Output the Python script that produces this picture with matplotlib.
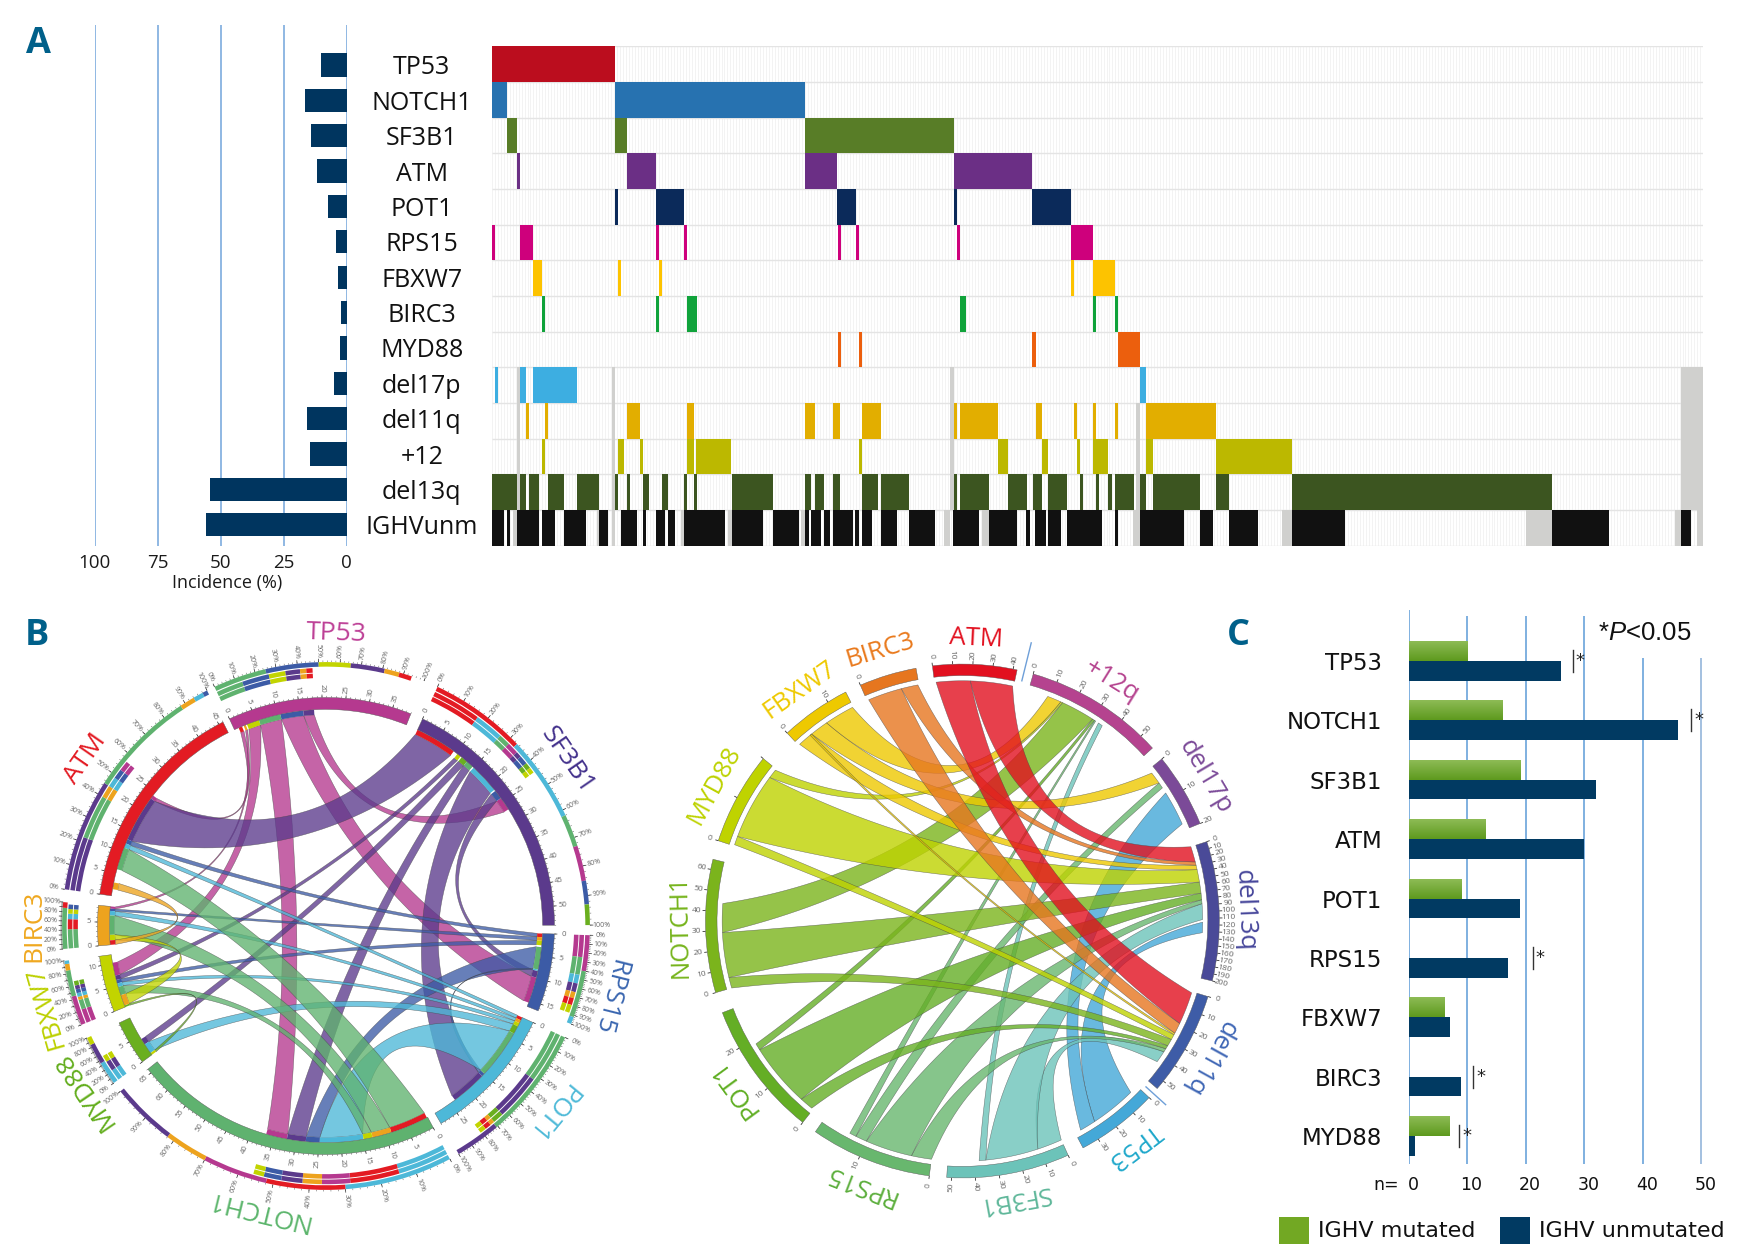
import matplotlib
matplotlib.use('Agg')
import matplotlib.pyplot as plt
import numpy as np
from matplotlib.collections import LineCollection
from matplotlib.patches import Polygon, Rectangle, Wedge
from matplotlib.transforms import ScaledTranslation

plt.rcParams['font.family'] = ['Open Sans', 'DejaVu Sans']
plt.rcParams['mathtext.fontset'] = 'custom'
plt.rcParams['mathtext.it'] = 'Liberation Sans:italic'
plt.rcParams['mathtext.rm'] = 'Liberation Sans'

W, H = 1737, 1260

# +++ panel A: incidence bars and mutation matrix +++
genes = ['TP53', 'NOTCH1', 'SF3B1', 'ATM', 'POT1', 'RPS15', 'FBXW7', 'BIRC3', 'MYD88',
         'del17p', 'del11q', '+12', 'del13q', 'IGHVunm']
incidence = [10.1, 16.7, 14.1, 11.7, 7.5, 4.2, 3.3, 2.2, 2.6, 5.0, 15.9, 14.8, 54.4, 55.7]
incidence_ticks = [100, 75, 50, 25, 0]
n_patients = 406

gene_colors = ['#bb0d1e', '#2772b0', '#587d27', '#6b2f85', '#0b2a5a', '#ce007c', '#fdc300',
               '#10a33b', '#ec5f0d', '#3daee1', '#e2ae00', '#bcb800', '#3c5520', '#111111']

# altered patients per row as (first, last) positions along the sorted patient axis
tp53_runs = [(0, 41.3)]
notch1_runs = [(0, 5.2), (41.3, 105)]
sf3b1_runs = [(5.2, 8.5), (41.3, 45.5), (105, 155)]
atm_runs = [(8.5, 9.5), (45.5, 55), (105, 115.8), (155, 181)]
pot1_runs = [(41.3, 42.4), (55, 64.5), (115.8, 122), (155, 156), (181, 194)]
rps15_runs = [(0, 1), (9.5, 13.8), (55, 56), (64.5, 65.6), (116, 117), (122, 123), (156, 157), (194, 201.4)]
fbxw7_runs = [(13.8, 17), (42.4, 43.3), (56, 57), (194, 195), (201.4, 208.8)]
birc3_runs = [(17, 18), (55, 56), (65.4, 68.8), (157, 159), (201.4, 202.5), (208.8, 209.8)]
myd88_runs = [(116, 117), (123, 124.2), (181, 182.4), (209.8, 217.3)]
del17p_runs = [(1, 2), (9.5, 11.5), (13.8, 28.6), (217.3, 219.3)]
del11q_runs = [(11.5, 12.6), (18, 19), (45.5, 49.8), (65.4, 67.7), (105, 108.4), (114.5, 116.7), (124.2, 130.5),
               (155, 156), (157, 169.7), (182.4, 184.3), (195, 196), (201.4, 202.5), (208.8, 209.8), (219.3, 242.6)]
plus12_runs = [(17, 18), (42.4, 44.4), (49.6, 50.7), (65.4, 67.7), (68.6, 80.3), (123, 124.2), (169.7, 172.9),
               (184.3, 186.5), (196, 197.2), (201.5, 206.6), (219.3, 221.6), (242.6, 268)]
del13q_runs = [(0, 8.4), (9.4, 11.5), (12.6, 15.9), (19, 24.2), (28.5, 36), (41.1, 42.2), (45.4, 46.5), (50.7, 52.8),
               (57, 59.2), (64.4, 65.5), (67.7, 68.8), (80.4, 94.1), (105, 107.1), (108.2, 111.3), (114.4, 116.6),
               (124, 129.4), (130.4, 139.9), (155, 156), (157, 166.5), (172.9, 179.2), (181.3, 184.5), (186.5, 192.9),
               (197, 198.2), (202.5, 203.6), (206.6, 207.9), (208.8, 215.2), (217.3, 219.3), (221.6, 237.3),
               (242.6, 246.9), (268, 355.2)]
ighv_runs = [(0, 4.1), (5.2, 6.2), (8.4, 15.9), (16.9, 21.1), (24.2, 31.6), (36, 39.1), (43.2, 48.7), (50.7, 51.8),
             (55, 58.2), (59.1, 61.3), (64.4, 78.3), (80.4, 91), (94.1, 103), (105, 106.2), (107.1, 110.4),
             (111.2, 113.4), (114.4, 120.9), (121.8, 123.2), (124, 127.3), (130.4, 135.8), (139.9, 148.5),
             (154.7, 163.3), (166.5, 176), (179, 180.2), (182.2, 185.6), (186.5, 190.9), (192.9, 204.5),
             (208.8, 209.8), (217.3, 232), (237.3, 241.6), (246.9, 256.6), (268, 286), (355.2, 374.3), (398.5, 401.8)]
gene_runs = [tp53_runs, notch1_runs, sf3b1_runs, atm_runs, pot1_runs, rps15_runs, fbxw7_runs, birc3_runs,
             myd88_runs, del17p_runs, del11q_runs, plus12_runs, del13q_runs, ighv_runs]

# not evaluable patients (grey cells)
fish_missing = [(8.4, 9.4), (40.2, 41.3), (153.7, 154.9), (398.5, 406)]
del11q_missing = fish_missing + [(216, 217.3)]
ighv_missing = [(7.3, 8.4), (35.2, 36), (40.2, 41.3), (63.4, 64.4), (79.3, 80.4), (103.8, 105), (151.5, 153.7),
                (164.2, 166.5), (215, 217.3), (264.7, 268), (346.6, 355.2), (396.4, 398.5), (403.7, 406)]
missing_rows = {9: fish_missing, 10: del11q_missing, 11: del11q_missing, 12: del11q_missing, 13: ighv_missing}

# +++ panel B: co-occurrence among mutated genes +++
b_sectors = ['TP53', 'SF3B1', 'RPS15', 'POT1', 'NOTCH1', 'MYD88', 'FBXW7', 'BIRC3', 'ATM']
b_sizes = [39, 54, 16.5, 29, 66, 9.5, 12, 8.5, 46]
b_starts = [-25, 25, 92, 115, 152, 233.5, 248, 265, 278]
b_label_angles = [2, 55.5, 104, 129.5, 193.7, 235.7, 254, 270, 304.8]
b_colors = {'TP53': '#b5398f', 'SF3B1': '#5b3a8c', 'RPS15': '#3c5ba6', 'POT1': '#4db8d8', 'NOTCH1': '#5fb26f',
            'MYD88': '#6aaf1f', 'FBXW7': '#c2d400', 'BIRC3': '#eda31e', 'ATM': '#e31b23'}
b_label_colors = {'TP53': '#bd3f96', 'SF3B1': '#43318c', 'RPS15': '#3a66b0', 'POT1': '#4fbad8', 'NOTCH1': '#5cb56c',
                  'MYD88': '#62ad1c', 'FBXW7': '#bcd000', 'BIRC3': '#efa820', 'ATM': '#e31b23'}
b_links = [
    ('TP53', 1, 1.8, 'ATM', 23.4, 24.2), ('TP53', 2.2, 2.7, 'BIRC3', 8, 8.5), ('TP53', 3, 5.8, 'FBXW7', 7.3, 10.2),
    ('TP53', 5.8, 10.7, 'NOTCH1', 32, 36.7), ('TP53', 10.7, 15.8, 'RPS15', 9.8, 15.6), ('TP53', 15.8, 18.2, 'SF3B1', 24, 27),
    ('SF3B1', 0, 9.3, 'ATM', 13, 23.4), ('SF3B1', 10.3, 11.2, 'FBXW7', 6.3, 7.3), ('SF3B1', 11.5, 13, 'MYD88', 2.8, 4.2),
    ('SF3B1', 13, 14.7, 'NOTCH1', 27.8, 32), ('SF3B1', 15, 21.7, 'POT1', 15.7, 23.7), ('SF3B1', 22, 24, 'RPS15', 8.3, 9.8),
    ('RPS15', 0, 0.8, 'ATM', 12, 13), ('RPS15', 0.8, 1.6, 'BIRC3', 7.5, 8), ('RPS15', 1.6, 2.6, 'FBXW7', 5.5, 6.3),
    ('RPS15', 3, 8, 'NOTCH1', 24.7, 27.8), ('RPS15', 8, 8.3, 'POT1', 15, 15.7),
    ('POT1', 0, 0.7, 'ATM', 11, 12), ('POT1', 0.7, 1.4, 'BIRC3', 6.5, 7.5), ('POT1', 1.4, 2.2, 'FBXW7', 4.7, 5.5),
    ('POT1', 2.2, 4, 'MYD88', 0.5, 2.8), ('POT1', 4, 15, 'NOTCH1', 15, 24.7),
    ('NOTCH1', 0.2, 8.7, 'ATM', 6, 11), ('NOTCH1', 8.7, 13, 'BIRC3', 2.2, 6.5), ('NOTCH1', 13, 15, 'FBXW7', 2.8, 4.7),
    ('MYD88', 0, 0.5, 'FBXW7', 0, 0.4), ('FBXW7', 0.4, 2.8, 'BIRC3', 1, 2.2), ('BIRC3', 0, 1, 'ATM', 1.5, 3),
]
b_outer_shares = {
    'TP53': [('NOTCH1', 25), ('RPS15', 25), ('FBXW7', 15), ('SF3B1', 16), ('BIRC3', 7), ('ATM', 6)],
    'SF3B1': [('ATM', 33), ('POT1', 29), ('NOTCH1', 11), ('TP53', 12), ('RPS15', 8), ('MYD88', 7)],
    'RPS15': [('TP53', 40), ('NOTCH1', 52), ('POT1', 8)],
    'POT1': [('NOTCH1', 71), ('SF3B1', 29)],
    'NOTCH1': [('POT1', 30), ('ATM', 22), ('TP53', 18), ('BIRC3', 12), ('SF3B1', 18)],
    'MYD88': [('POT1', 45), ('SF3B1', 40), ('FBXW7', 15)],
    'FBXW7': [('TP53', 45), ('NOTCH1', 40), ('BIRC3', 10), ('POT1', 5)],
    'BIRC3': [('NOTCH1', 88), ('ATM', 12)],
    'ATM': [('SF3B1', 45), ('NOTCH1', 43), ('BIRC3', 6), ('POT1', 4), ('RPS15', 2)],
}
b_inner_shares = {
    'TP53': [('NOTCH1', 13), ('RPS15', 13), ('FBXW7', 8), ('SF3B1', 7), ('BIRC3', 3), ('ATM', 3)],
    'SF3B1': [('ATM', 17), ('POT1', 10), ('NOTCH1', 4), ('TP53', 4), ('SF3B1', 2), ('RPS15', 3), ('MYD88', 2), ('FBXW7', 2)],
    'RPS15': [('TP53', 25), ('NOTCH1', 20), ('POT1', 10), ('SF3B1', 10), ('BIRC3', 7), ('ATM', 8), ('FBXW7', 9)],
    'POT1': [('NOTCH1', 33), ('SF3B1', 30), ('MYD88', 7), ('BIRC3', 3), ('ATM', 4), ('FBXW7', 4)],
    'NOTCH1': [('POT1', 14.5), ('ATM', 14), ('TP53', 8), ('BIRC3', 5.5), ('SF3B1', 6), ('RPS15', 5), ('FBXW7', 3)],
    'MYD88': [('POT1', 22), ('SF3B1', 20), ('FBXW7', 13)],
    'FBXW7': [('TP53', 22), ('NOTCH1', 15), ('BIRC3', 5), ('POT1', 6), ('RPS15', 6), ('SF3B1', 6), ('MYD88', 7)],
    'BIRC3': [('NOTCH1', 42), ('ATM', 22), ('POT1', 12), ('FBXW7', 10), ('RPS15', 10)],
    'ATM': [('SF3B1', 22), ('NOTCH1', 18), ('BIRC3', 5), ('POT1', 4), ('RPS15', 4), ('TP53', 4)],
}

# +++ panel C left: mutations vs cytogenetic alterations +++
c_sectors = ['ATM', '+12q', 'del17p', 'del13q', 'del11q', 'TP53', 'SF3B1', 'RPS15', 'POT1', 'NOTCH1', 'MYD88', 'FBXW7', 'BIRC3']
c_sizes = [42, 56.6, 20, 200, 55, 38, 52, 17, 28, 65, 20, 14, 9]
c_starts = [-6.7, 16, 50.9, 72, 107.1, 133.4, 155.7, 187.4, 218.4, 253.8, 288.2, 317, 336.6]
c_ends = [12.3, 47.7, 67.7, 103.5, 130.7, 152, 183.5, 214.9, 249.1, 283.9, 309.2, 333, 349.6]
c_colors = {'ATM': '#e2101f', '+12q': '#b5438f', 'del17p': '#7b4a98', 'del13q': '#4a4a98', 'del11q': '#3e5ca7',
            'TP53': '#44a8d8', 'SF3B1': '#6cc3b9', 'RPS15': '#68b76e', 'POT1': '#64ae25', 'NOTCH1': '#7bb41c',
            'MYD88': '#bfd300', 'FBXW7': '#eec900', 'BIRC3': '#e6761f'}
c_label_colors = {'ATM': '#e2101f', '+12q': '#b5438f', 'del17p': '#7b4a98', 'del13q': '#45459a', 'del11q': '#3e66b5',
                  'TP53': '#1fa8cb', 'SF3B1': '#5fb79a', 'RPS15': '#5cae3c', 'POT1': '#5fae22', 'NOTCH1': '#76b41c',
                  'MYD88': '#bdd200', 'FBXW7': '#eec900', 'BIRC3': '#e9791c'}
c_links = [
    ('TP53', 4.3, 27, 'del13q', 116, 132), ('TP53', 27, 35, 'del17p', 8.2, 18.2),
    ('SF3B1', 0, 11.2, 'del11q', 37, 43.7), ('SF3B1', 11.2, 35, 'del13q', 88, 112), ('SF3B1', 35, 38, '+12q', 33, 35),
    ('RPS15', 0, 3, 'del11q', 35, 37), ('RPS15', 3, 10, 'del13q', 82, 88), ('RPS15', 10, 11.7, 'del17p', 4.8, 6.5),
    ('RPS15', 11.7, 12.7, '+12q', 31, 31.6),
    ('POT1', 0.4, 3.4, 'del11q', 33, 35), ('POT1', 3.4, 17.5, 'del13q', 72, 82), ('POT1', 17.5, 19, '+12q', 30, 31),
    ('NOTCH1', 0, 5.6, 'del11q', 29, 33), ('NOTCH1', 5.6, 29, 'del13q', 55, 72), ('NOTCH1', 29, 44, '+12q', 15.4, 30),
    ('MYD88', 0.3, 2.3, 'del11q', 26, 29), ('MYD88', 2.3, 17.6, 'del13q', 36, 55), ('MYD88', 17.6, 19.7, '+12q', 14.6, 15.4),
    ('FBXW7', 0.3, 3.6, 'del13q', 29, 36), ('FBXW7', 3.2, 3.6, 'del11q', 25, 26),
    ('FBXW7', 3.6, 7.5, 'del17p', 1.3, 4.8), ('FBXW7', 7.5, 13.8, '+12q', 8.6, 14.6),
    ('BIRC3', 0.3, 6, 'del11q', 19, 25), ('BIRC3', 6, 8.8, 'del13q', 24, 29),
    ('ATM', 0.9, 19, 'del11q', 0.7, 19), ('ATM', 19, 41.5, 'del13q', 0, 24),
]

# +++ panel C right: mutations by IGHV status +++
ighv_genes = ['TP53', 'NOTCH1', 'SF3B1', 'ATM', 'POT1', 'RPS15', 'FBXW7', 'BIRC3', 'MYD88']
ighv_mutated = [10, 16, 19, 13, 9, 0, 6, 0, 7]
ighv_unmutated = [26, 46, 32, 30, 19, 17, 7, 9, 1]
sig_genes = [0, 1, 5, 7, 8]
sig_x = [28, 48.3, 21.2, 11, 8.6]
n_ticks = [0, 10, 20, 30, 40, 50]


def px_axes(fig, x0, y0, x1, y1):
    return fig.add_axes([x0 / W, 1 - y1 / H, (x1 - x0) / W, (y1 - y0) / H])


def polar_xy(theta, r):
    t = np.radians(theta)
    return np.array([r * np.sin(t), r * np.cos(t)])


def annular(ax, t0, t1, r0, r1, color, edge='none', **kw):
    ax.add_patch(Wedge((0, 0), r1, 90 - t1, 90 - t0, width=r1 - r0, facecolor=color, edgecolor=edge, linewidth=0.3, **kw))


def curve_between(p0, p2, pull=0.42):
    # quadratic bezier bent towards the centre of the circle
    c = (p0 + p2) / 2 * pull
    s = np.linspace(0, 1, 40)[:, None]
    return (1 - s) ** 2 * p0 + 2 * s * (1 - s) * c + s ** 2 * p2


def draw_ribbon(ax, a0, a1, b0, b1, r, color, alpha):
    arc_a = np.array([polar_xy(t, r) for t in np.linspace(a0, a1, 12)])
    arc_b = np.array([polar_xy(t, r) for t in np.linspace(b0, b1, 12)])
    pts = np.vstack([arc_a, curve_between(arc_a[-1], arc_b[0]), arc_b, curve_between(arc_b[-1], arc_a[0])])
    ax.add_patch(Polygon(pts, closed=True, facecolor=color, alpha=alpha, edgecolor='none'))
    ax.add_patch(Polygon(pts, closed=True, facecolor='none', edgecolor='#444444', lw=0.35, alpha=0.7))


def radial_ticks(ax, angles, r0, r1, lw=0.4, color='#333333'):
    segs = [[polar_xy(t, r0), polar_xy(t, r1)] for t in angles]
    ax.add_collection(LineCollection(segs, colors=color, linewidths=lw))


def radial_label(ax, theta, r, text, size, color='#666666'):
    x, y = polar_xy(theta, r)
    t = theta % 360
    rot = 90 - t if t <= 180 else 270 - t
    ax.text(x, y, text, fontsize=size, color=color, rotation=rot, ha='center', va='center', rotation_mode='anchor')


def arc_label(ax, theta, r, text, size, color):
    x, y = polar_xy(theta, r)
    ax.text(x, y, text, fontsize=size, color=color, rotation=-theta, ha='center', va='center', rotation_mode='anchor')


fig = plt.figure(figsize=(W / 100, H / 100), dpi=100, facecolor='white')

# incidence bars
ax_inc = px_axes(fig, 94.9, 25, 346.8, 546)
row_pos = np.arange(len(genes))
ax_inc.barh(row_pos, incidence, height=0.66, color='#00355f', zorder=3)
ax_inc.set_xlim(100, 0)
ax_inc.set_ylim(13.6, -1.13)
ax_inc.set_xticks(incidence_ticks)
ax_inc.set_xticklabels(incidence_ticks, fontsize=13.5, color='#1a1a1a')
ax_inc.tick_params(axis='x', length=0, pad=6)
ax_inc.grid(axis='x', color='#8fb8e3', linewidth=1.4, zorder=0)
ax_inc.yaxis.tick_right()
ax_inc.set_yticks(row_pos)
ax_inc.set_yticklabels(genes, fontsize=18, ha='center', color='#111111')
ax_inc.tick_params(axis='y', length=0, pad=54)
for side in ax_inc.spines.values():
    side.set_visible(False)
ax_inc.set_xlabel('Incidence (%)', fontsize=13, color='#1a1a1a')
ax_inc.xaxis.set_label_coords(0.526, -0.054)

# mutation matrix
ax_mat = px_axes(fig, 491.7, 46.3, 1703.4, 545.7)
ax_mat.set_xlim(0, n_patients)
ax_mat.set_ylim(len(genes), 0)
ax_mat.vlines(np.arange(n_patients + 1), 0, len(genes), color='#eeeeee', linewidth=0.5, zorder=0)
ax_mat.hlines(np.arange(len(genes) + 1), 0, n_patients, color='#e4e4e4', linewidth=1, zorder=0)
for i, runs in enumerate(gene_runs):
    ax_mat.broken_barh([(s, e - s) for s, e in runs], (i, 1), facecolor=gene_colors[i], edgecolor='none', zorder=2)
for i, runs in missing_rows.items():
    ax_mat.broken_barh([(s, e - s) for s, e in runs], (i, 1), facecolor='#d0d0ce', edgecolor='none', zorder=2)
ax_mat.axis('off')

# chord diagram B
ax_b = px_axes(fig, 326 - 324, 926 - 324, 326 + 324, 926 + 324)
ax_b.set_xlim(-1.418, 1.418)
ax_b.set_ylim(-1.418, 1.418)
ax_b.axis('off')
b_k = 1.2
b_pos = {n: (st, sz) for n, st, sz in zip(b_sectors, b_starts, b_sizes)}
for link in b_links:
    s_a, a0, a1, s_b, u0, u1 = link
    ta0, ta1 = b_pos[s_a][0] + b_k * a0, b_pos[s_a][0] + b_k * a1
    tb0, tb1 = b_pos[s_b][0] + b_k * u0, b_pos[s_b][0] + b_k * u1
    draw_ribbon(ax_b, ta0, ta1, tb0, tb1, 0.925, b_colors[s_a], 0.78)
    annular(ax_b, ta0, ta1, 0.925, 0.948, b_colors[s_b], zorder=4)
    annular(ax_b, tb0, tb1, 0.925, 0.948, b_colors[s_a], zorder=4)
for n, st, sz, lab_t in zip(b_sectors, b_starts, b_sizes, b_label_angles):
    end = st + b_k * sz
    annular(ax_b, st, end, 0.948, 1.0, b_colors[n], edge='#555555', zorder=5)
    radial_ticks(ax_b, st + b_k * np.arange(0, sz + 0.01, 1), 1.0, 1.007, lw=0.3)
    radial_ticks(ax_b, st + b_k * np.arange(0, sz + 0.01, 5), 1.0, 1.013, lw=0.5)
    for u in np.arange(0, sz + 0.01, 5):
        radial_label(ax_b, st + b_k * u, 1.04, '%d' % u, 5.5)
    # share rings
    span = end - st
    for shares, r0, r1 in [(b_outer_shares[n], 1.135, 1.155), (b_inner_shares[n], 1.11, 1.13), (b_inner_shares[n], 1.086, 1.106)]:
        pos = 0
        for partner, pct in shares:
            annular(ax_b, st + span * pos / 100, st + span * (pos + pct) / 100, r0, r1, b_colors[partner], zorder=3)
            pos += pct
    radial_ticks(ax_b, st + span * np.arange(0, 101, 2) / 100, 1.155, 1.162, lw=0.3)
    radial_ticks(ax_b, st + span * np.arange(0, 101, 10) / 100, 1.155, 1.17, lw=0.5)
    for pct in np.arange(0, 101, 10 if sz > 12 else 20):
        radial_label(ax_b, st + span * pct / 100, 1.205, '%d%%' % pct, 5)
    arc_label(ax_b, lab_t, 1.28, n, 19, b_label_colors[n])

# chord diagram C
ax_c = px_axes(fig, 962.4 - 314, 921 - 314, 962.4 + 314, 921 + 314)
ax_c.set_xlim(-1.222, 1.222)
ax_c.set_ylim(-1.222, 1.222)
ax_c.axis('off')
c_pos = {n: (st, en, sz) for n, st, en, sz in zip(c_sectors, c_starts, c_ends, c_sizes)}


def c_angle(name, u):
    st, en, sz = c_pos[name]
    return st + (en - st) * u / sz


for s_a, a0, a1, s_b, u0, u1 in c_links:
    draw_ribbon(ax_c, c_angle(s_a, a0), c_angle(s_a, a1), c_angle(s_b, u0), c_angle(s_b, u1), 0.935, c_colors[s_a], 0.8)
for n, st, en, sz in zip(c_sectors, c_starts, c_ends, c_sizes):
    annular(ax_c, st, en, 0.955, 1.0, c_colors[n], edge='#555555', zorder=5)
    radial_ticks(ax_c, c_angle(n, np.arange(0, sz + 0.01, 10)), 1.0, 1.012, lw=0.6)
    for u in np.arange(0, sz + 0.01, 10):
        if sz > 10 and (n != 'MYD88' or u == 0):
            radial_label(ax_c, c_angle(n, u), 1.036, '%d' % u, 6)
    if sz < 10:
        radial_label(ax_c, st, 1.036, '0', 6)
    arc_label(ax_c, (st + en) / 2, 1.10, n, 18.5, c_label_colors[n])
for theta, r0, r1 in [(13.9, 0.963, 1.115), (132.1, 0.963, 1.066)]:
    p0, p1 = polar_xy(theta, r0), polar_xy(theta, r1)
    ax_c.plot([p0[0], p1[0]], [p0[1], p1[1]], color='#6e9fd8', linewidth=1)

# IGHV bars
ax_n = px_axes(fig, 1408.8, 610, 1712.5, 1164)
ax_n.set_xlim(0, 303.7 / 5.85)
rows = np.arange(len(ighv_genes))
bar_h = 0.33
grid_tops = [-0.86, -0.76, -0.76, -0.76, -0.05, -0.05]
grid_colors = ['#7fb0e0', '#7fb0e0', '#7fb0e0', '#7fb0e0', '#7fb0e0', '#a3c0e0']
ax_n.vlines(n_ticks, grid_tops, 8.47, colors=grid_colors, linewidth=1.4, zorder=0)
shade = np.linspace(0, 1, 32)[:, None]
green_map = matplotlib.colors.LinearSegmentedColormap.from_list('g', ['#8dbb55', '#5e9a1e'])
for y, v in zip(rows, ighv_mutated):
    if v > 0:
        ax_n.imshow(shade, cmap=green_map, extent=[0, v, y, y - bar_h], aspect='auto', zorder=2)
ax_n.barh(rows + bar_h / 2, ighv_unmutated, height=bar_h, color='#013a62', zorder=2)
ax_n.set_xlim(0, 303.7 / 5.85)
ax_n.set_ylim(8.47, -0.86)
ax_n.set_yticks(rows)
ax_n.set_yticklabels(ighv_genes, fontsize=16.5, family='DejaVu Sans', color='#111111')
ax_n.tick_params(axis='y', length=0, pad=19)
ax_n.set_xticks(n_ticks)
ax_n.set_xticklabels(n_ticks, fontsize=12.5, family='DejaVu Sans', color='#111111')
ax_n.tick_params(axis='x', length=0, pad=9)
shift = ScaledTranslation(3 / 72, 0, fig.dpi_scale_trans)
for lbl in ax_n.get_xticklabels():
    lbl.set_transform(lbl.get_transform() + shift)
for side in ax_n.spines.values():
    side.set_visible(False)
ax_n.patch.set_alpha(0)
for g, x in zip(sig_genes, sig_x):
    ax_n.plot([x, x], [g - 0.185, g + 0.185], color='#333333', linewidth=1)
    ax_n.text(x + 0.5, g, '*', fontsize=13, ha='left', va='center', family='DejaVu Sans', color='#222222')

# free text and legend in page pixels
ax_page = fig.add_axes([0, 0, 1, 1], zorder=10)
ax_page.set_xlim(0, W)
ax_page.set_ylim(H, 0)
ax_page.axis('off')
for letter, x, y in [('A', 38, 44), ('B', 37, 636), ('C', 1238, 636)]:
    ax_page.text(x, y, letter, fontsize=26, fontweight='bold', color='#00608a', ha='center', va='center',
                 family=['Liberation Sans Narrow', 'Open Sans'] if letter == 'A' else 'Open Sans')
ax_page.text(1386, 1185, 'n=', fontsize=12.5, family='DejaVu Sans', ha='center', va='center', color='#111111')
ax_page.text(1645, 633, r'*$\mathit{P}$<0.05', fontsize=18.5, family='Liberation Sans', ha='center', va='center', color='#111111')
ax_page.add_patch(Rectangle((1279, 1217.4), 30, 26.6, facecolor='#72a823', edgecolor='none'))
ax_page.add_patch(Rectangle((1500, 1217.4), 30, 26.6, facecolor='#013a62', edgecolor='none'))
ax_page.text(1318, 1231, 'IGHV mutated', fontsize=16, family='DejaVu Sans', va='center', color='#111111')
ax_page.text(1539, 1231, 'IGHV unmutated', fontsize=16, family='DejaVu Sans', va='center', color='#111111')

plt.savefig('out.png', dpi=100, facecolor='white')
